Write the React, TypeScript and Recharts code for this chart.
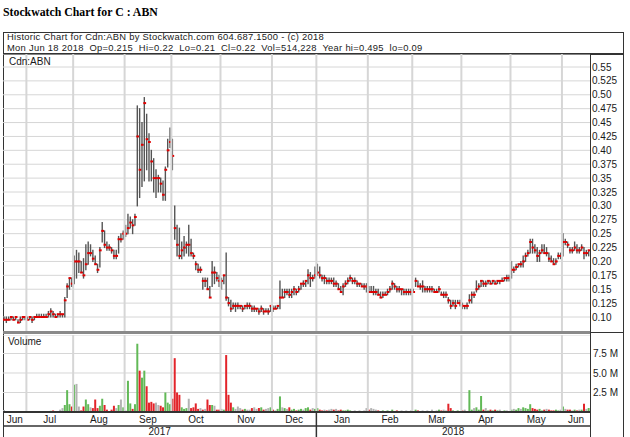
import React from 'react';
import { ComposedChart, Bar, XAxis, YAxis, CartesianGrid, ReferenceLine, Cell } from 'recharts';

// ---------- DATA (one bar per trading day, Jun 19 2017 .. Jun 18 2018) ----------
const HIGH = [
  0.10, 0.10, 0.10, 0.10, 0.10, 0.10, 0.095, 0.10, 0.10, 0.10,
  0.10, 0.10, 0.10, 0.10, 0.105, 0.105, 0.105, 0.105, 0.105, 0.11,
  0.115, 0.11, 0.105, 0.105, 0.11, 0.105, 0.135, 0.16, 0.17, 0.17,
  0.21, 0.22, 0.215, 0.20, 0.205, 0.23, 0.235, 0.23, 0.22, 0.21,
  0.195, 0.225, 0.27, 0.255, 0.235, 0.23, 0.225, 0.22, 0.22, 0.245,
  0.25, 0.255, 0.265, 0.285, 0.28, 0.275, 0.285, 0.48, 0.475, 0.45,
  0.495, 0.465, 0.43, 0.40, 0.385, 0.365, 0.355, 0.35, 0.345, 0.37,
  0.42, 0.44, 0.42, 0.30, 0.265, 0.26, 0.235, 0.245, 0.235, 0.265,
  0.24, 0.215, 0.20, 0.195, 0.19, 0.17, 0.17, 0.17, 0.155, 0.20,
  0.19, 0.18, 0.175, 0.17, 0.175, 0.215, 0.135, 0.13, 0.125, 0.125,
  0.125, 0.12, 0.12, 0.12, 0.125, 0.125, 0.12, 0.12, 0.115, 0.115,
  0.12, 0.115, 0.115, 0.115, 0.12, 0.12, 0.12, 0.12, 0.165, 0.15,
  0.15, 0.15, 0.15, 0.15, 0.155, 0.15, 0.155, 0.16, 0.165, 0.165,
  0.185, 0.18, 0.175, 0.19, 0.195, 0.19, 0.175, 0.175, 0.17, 0.17,
  0.17, 0.17, 0.165, 0.16, 0.155, 0.16, 0.165, 0.17, 0.175, 0.17,
  0.17, 0.165, 0.16, 0.16, 0.16, 0.16, 0.155, 0.155, 0.155, 0.15,
  0.15, 0.145, 0.145, 0.145, 0.15, 0.155, 0.165, 0.16, 0.155, 0.155,
  0.15, 0.15, 0.15, 0.15, 0.15, 0.15, 0.17, 0.165, 0.16, 0.165,
  0.155, 0.155, 0.155, 0.155, 0.15, 0.15, 0.155, 0.145, 0.145, 0.145,
  0.135, 0.13, 0.13, 0.13, 0.13, 0.13, 0.125, 0.12, 0.125, 0.14,
  0.145, 0.145, 0.165, 0.16, 0.165, 0.165, 0.165, 0.165, 0.165, 0.165,
  0.165, 0.165, 0.165, 0.17, 0.17, 0.175, 0.175, 0.20, 0.19, 0.195,
  0.195, 0.20, 0.21, 0.215, 0.22, 0.24, 0.24, 0.23, 0.225, 0.22,
  0.23, 0.23, 0.225, 0.215, 0.21, 0.205, 0.205, 0.215, 0.215, 0.25,
  0.24, 0.235, 0.225, 0.225, 0.235, 0.23, 0.225, 0.23, 0.225, 0.22,
  0.22,
];
const LOW = [
  0.095, 0.09, 0.095, 0.095, 0.095, 0.095, 0.09, 0.09, 0.095, 0.095,
  0.095, 0.095, 0.09, 0.095, 0.10, 0.10, 0.10, 0.10, 0.10, 0.10,
  0.10, 0.10, 0.10, 0.10, 0.10, 0.10, 0.10, 0.135, 0.15, 0.155,
  0.16, 0.17, 0.18, 0.18, 0.17, 0.185, 0.195, 0.21, 0.20, 0.195,
  0.18, 0.19, 0.235, 0.225, 0.22, 0.22, 0.215, 0.205, 0.205, 0.215,
  0.235, 0.24, 0.245, 0.25, 0.26, 0.25, 0.265, 0.30, 0.315, 0.335,
  0.345, 0.365, 0.345, 0.345, 0.325, 0.315, 0.325, 0.325, 0.31, 0.31,
  0.37, 0.405, 0.365, 0.24, 0.21, 0.205, 0.205, 0.21, 0.215, 0.21,
  0.21, 0.205, 0.185, 0.18, 0.18, 0.15, 0.155, 0.15, 0.135, 0.155,
  0.16, 0.165, 0.155, 0.15, 0.16, 0.13, 0.12, 0.11, 0.115, 0.11,
  0.115, 0.115, 0.11, 0.115, 0.115, 0.115, 0.11, 0.11, 0.11, 0.105,
  0.11, 0.105, 0.11, 0.105, 0.11, 0.11, 0.115, 0.115, 0.115, 0.135,
  0.135, 0.14, 0.135, 0.135, 0.14, 0.14, 0.145, 0.15, 0.155, 0.155,
  0.16, 0.155, 0.165, 0.17, 0.175, 0.17, 0.165, 0.16, 0.16, 0.16,
  0.16, 0.155, 0.155, 0.15, 0.145, 0.14, 0.155, 0.16, 0.165, 0.16,
  0.16, 0.155, 0.155, 0.155, 0.15, 0.145, 0.145, 0.145, 0.14, 0.14,
  0.14, 0.135, 0.135, 0.14, 0.14, 0.145, 0.15, 0.15, 0.145, 0.145,
  0.14, 0.14, 0.14, 0.14, 0.14, 0.145, 0.155, 0.155, 0.15, 0.145,
  0.145, 0.145, 0.145, 0.145, 0.145, 0.145, 0.145, 0.14, 0.135, 0.135,
  0.125, 0.115, 0.12, 0.115, 0.125, 0.12, 0.115, 0.115, 0.115, 0.125,
  0.125, 0.135, 0.145, 0.15, 0.155, 0.155, 0.155, 0.16, 0.16, 0.16,
  0.16, 0.16, 0.16, 0.165, 0.165, 0.165, 0.165, 0.17, 0.18, 0.185,
  0.19, 0.19, 0.19, 0.20, 0.21, 0.215, 0.215, 0.215, 0.20, 0.20,
  0.215, 0.215, 0.21, 0.20, 0.20, 0.195, 0.195, 0.205, 0.205, 0.21,
  0.23, 0.225, 0.215, 0.215, 0.22, 0.215, 0.215, 0.22, 0.205, 0.21,
  0.21,
];
const CLOSE = [
  0.095, 0.095, 0.095, 0.10, 0.095, 0.10, 0.09, 0.095, 0.10, 0.10,
  0.095, 0.10, 0.095, 0.10, 0.10, 0.10, 0.10, 0.10, 0.10, 0.105,
  0.11, 0.105, 0.10, 0.105, 0.105, 0.105, 0.13, 0.155, 0.17, 0.16,
  0.20, 0.20, 0.20, 0.18, 0.175, 0.195, 0.215, 0.215, 0.205, 0.195,
  0.185, 0.22, 0.255, 0.23, 0.225, 0.225, 0.22, 0.21, 0.21, 0.24,
  0.24, 0.25, 0.25, 0.26, 0.27, 0.265, 0.28, 0.425, 0.365, 0.41,
  0.485, 0.42, 0.415, 0.38, 0.35, 0.35, 0.35, 0.34, 0.32, 0.365,
  0.40, 0.415, 0.39, 0.26, 0.23, 0.21, 0.22, 0.225, 0.23, 0.23,
  0.215, 0.21, 0.195, 0.185, 0.185, 0.165, 0.165, 0.15, 0.135, 0.18,
  0.18, 0.17, 0.165, 0.165, 0.175, 0.135, 0.125, 0.115, 0.12, 0.12,
  0.12, 0.12, 0.115, 0.12, 0.12, 0.12, 0.115, 0.115, 0.115, 0.11,
  0.115, 0.11, 0.11, 0.11, 0.12, 0.115, 0.115, 0.12, 0.135, 0.135,
  0.145, 0.145, 0.14, 0.145, 0.15, 0.145, 0.15, 0.16, 0.16, 0.165,
  0.175, 0.17, 0.17, 0.175, 0.18, 0.175, 0.17, 0.17, 0.165, 0.165,
  0.165, 0.16, 0.16, 0.15, 0.145, 0.155, 0.16, 0.165, 0.17, 0.165,
  0.165, 0.16, 0.16, 0.155, 0.155, 0.155, 0.145, 0.145, 0.145, 0.145,
  0.14, 0.135, 0.14, 0.14, 0.145, 0.15, 0.16, 0.155, 0.15, 0.15,
  0.15, 0.145, 0.145, 0.145, 0.145, 0.145, 0.165, 0.155, 0.155, 0.155,
  0.15, 0.15, 0.15, 0.15, 0.145, 0.145, 0.15, 0.14, 0.14, 0.14,
  0.13, 0.12, 0.125, 0.12, 0.125, 0.125, 0.12, 0.12, 0.12, 0.13,
  0.14, 0.14, 0.15, 0.155, 0.165, 0.16, 0.16, 0.165, 0.16, 0.165,
  0.16, 0.165, 0.165, 0.165, 0.17, 0.17, 0.17, 0.185, 0.185, 0.19,
  0.195, 0.195, 0.20, 0.21, 0.215, 0.235, 0.225, 0.22, 0.21, 0.215,
  0.22, 0.215, 0.215, 0.205, 0.20, 0.195, 0.20, 0.21, 0.21, 0.235,
  0.235, 0.23, 0.22, 0.22, 0.225, 0.22, 0.22, 0.225, 0.215, 0.215,
  0.22,
];
// daily volume, millions of shares
const VOLUME_M = [
  0.25, 0.12, 0.05, 0.02, 0.03, 0.02, 0.03, 0.02, 0.02, 0.03,
  0.02, 0.05, 0.08, 0.1, 0.12, 0.03, 0.05, 0.02, 0.05, 0.08,
  0.15, 0.2, 0.05, 0.1, 0.3, 0.5, 0.9, 2.8, 1.0, 0.7,
  3.5, 3.6, 0.7, 0.2, 0.7, 1.6, 1.0, 0.6, 0.5, 1.6,
  0.5, 0.8, 1.7, 0.9, 0.3, 0.1, 0.3, 0.8, 0.5, 0.9,
  1.6, 0.6, 0.2, 4.0, 1.1, 0.4, 1.0, 8.75, 5.3, 4.4,
  5.3, 3.3, 1.2, 1.3, 1.1, 1.2, 0.9, 0.8, 0.6, 2.5,
  1.2, 1.0, 1.7, 6.9, 2.5, 2.2, 0.6, 0.4, 0.5, 1.7,
  0.5, 0.6, 1.1, 0.4, 0.5, 0.3, 0.4, 1.6, 0.9, 0.9,
  0.8, 0.3, 0.3, 0.4, 0.3, 7.3, 2.2, 1.2, 0.6, 0.4,
  0.7, 0.5, 0.3, 0.4, 0.3, 0.3, 0.5, 0.6, 0.4, 0.5,
  0.6, 0.3, 0.4, 0.5, 0.6, 0.3, 0.2, 0.4, 2.0, 0.6,
  0.5, 0.4, 0.6, 0.3, 0.4, 0.2, 0.3, 0.4, 0.3, 0.5,
  0.6, 0.3, 0.5, 0.4, 0.5, 0.3, 0.2, 0.3, 0.2, 0.3,
  0.4, 0.3, 0.4, 0.2, 0.3, 0.2, 0.2, 0.3, 0.2, 0.1,
  0.2, 0.1, 0.2, 0.1, 0.2, 0.5, 0.3, 0.5, 0.4, 0.3,
  0.2, 0.1, 0.2, 0.1, 0.2, 0.1, 0.3, 0.1, 0.2, 0.1,
  0.2, 0.1, 0.2, 0.1, 0.2, 0.1, 0.3, 0.2, 0.1, 0.2,
  0.1, 0.2, 0.1, 0.3, 0.1, 0.2, 0.3, 0.2, 0.3, 0.2,
  1.06, 0.5, 0.2, 0.1, 0.2, 0.1, 0.2, 0.3, 0.1, 2.8,
  0.3, 0.5, 0.6, 0.3, 2.05, 0.3, 0.5, 0.2, 0.3, 0.2,
  0.3, 0.2, 0.3, 0.1, 0.2, 0.2, 0.1, 0.3, 0.4, 0.3,
  0.5, 0.4, 0.6, 0.5, 0.4, 1.0, 0.5, 0.4, 0.3, 0.4,
  0.2, 0.3, 0.4, 0.3, 0.2, 0.2, 0.3, 0.2, 0.3, 0.7,
  0.4, 0.3, 0.3, 0.2, 0.3, 0.2, 0.3, 0.3, 1.06, 0.4,
  0.51,
];
const N_DAYS = 251;
const MONTH_LABELS = ['Jun', 'Jul', 'Aug', 'Sep', 'Oct', 'Nov', 'Dec', 'Jan', 'Feb', 'Mar', 'Apr', 'May', 'Jun'];
const MONTH_START = [0, 10, 30, 52, 72, 93, 115, 134, 156, 175, 196, 217, 239];
const YEAR_LABELS = ['2017', '2018'];
const YEAR_START = [0, 134];
const PRICE_TICKS = [0.1, 0.125, 0.15, 0.175, 0.2, 0.225, 0.25, 0.275, 0.3, 0.325, 0.35, 0.375, 0.4, 0.425, 0.45, 0.475, 0.5, 0.525, 0.55];
const VOLUME_TICKS = [2.5, 5.0, 7.5];
const PRICE_DOMAIN = [0.073, 0.5734];
const VOLUME_DOMAIN = [0, 9.87];

const HEADER_1 = 'Historic Chart for Cdn:ABN by Stockwatch.com 604.687.1500 - (c) 2018';
const HEADER_2 = 'Mon Jun 18 2018  Op=0.215  Hi=0.22  Lo=0.21  Cl=0.22  Vol=514,228  Year hi=0.495  lo=0.09';

// ---------- derived tables ----------
const priceData = HIGH.map((h, i) => ({ i, h, l: LOW[i], c: CLOSE[i] }));
const volData = VOLUME_M.map((v, i) => ({
  i,
  v,
  dir: i === 0 ? 0 : Math.sign(CLOSE[i] - CLOSE[i - 1]),
}));
const X_DOMAIN = [-0.5, N_DAYS - 0.5];
const MONTH_MIDS = MONTH_START.map((s, k) => (s + (k + 1 < MONTH_START.length ? MONTH_START[k + 1] : N_DAYS)) / 2 - 0.5);
const YEAR_MIDS = YEAR_START.map((s, k) => (s + (k + 1 < YEAR_START.length ? YEAR_START[k + 1] : N_DAYS)) / 2 - 0.5);
const YEAR_BOUNDS = YEAR_START.slice(1).map((s) => s - 0.5);
const YEAR_TICKS = [...YEAR_MIDS, ...YEAR_BOUNDS].sort((a, b) => a - b);
const MONTH_LINES = MONTH_START.slice(1).map((s) => s - 0.5);

const SANS = '"Liberation Sans", Arial, Helvetica, sans-serif';
const TEXT = '#1a1a1a';
const GRID = '#d6d6d6';
const FRAME = '#333';

const fmtPrice = (v: number) => {
  const s = v.toFixed(3);
  return s.endsWith('0') ? v.toFixed(2) : s;
};

const OhlcShape = (props: any) => {
  const { x, y, width, height, payload } = props;
  if (x == null || y == null || !payload) return null;
  const cx = x + width / 2;
  const top = Math.min(y, y + height);
  const bot = Math.max(y, y + height);
  const span = payload.h - payload.l;
  const yc = span > 0 ? top + ((payload.h - payload.c) / span) * (bot - top) : top;
  return (
    <g>
      <line x1={cx} x2={cx} y1={top - 0.5} y2={bot + 0.5} stroke="#555" strokeWidth={1.4} />
      <line x1={cx - 1} x2={cx + 1.8} y1={yc} y2={yc} stroke="#e00000" strokeWidth={2} />
    </g>
  );
};

const PriceTick = (props: any) => {
  const { x, y, payload } = props;
  return (
    <text x={x + 2} y={y} dy={3.6} fontSize={10} fontFamily={SANS} fill={TEXT}>
      {fmtPrice(payload.value)}
    </text>
  );
};

const VolTick = (props: any) => {
  const { x, y, payload } = props;
  return (
    <text x={x + 3} y={y} dy={3.6} fontSize={10} fontFamily={SANS} fill={TEXT}>
      {`${Number(payload.value).toFixed(1)} M`}
    </text>
  );
};

const MonthTick = (props: any) => {
  const { x, y, payload } = props;
  const k = MONTH_MIDS.indexOf(payload.value);
  return (
    <text x={x} y={y} dy={11.2} textAnchor="middle" fontSize={10} fontFamily={SANS} fill={TEXT}>
      {k >= 0 ? MONTH_LABELS[k] : ''}
    </text>
  );
};

const YearTick = (props: any) => {
  const { x, y, payload } = props;
  const k = YEAR_MIDS.indexOf(payload.value);
  if (k >= 0) {
    return (
      <text x={x} y={y} dy={9.4} textAnchor="middle" fontSize={10} fontFamily={SANS} fill={TEXT}>
        {YEAR_LABELS[k]}
      </text>
    );
  }
  return <line x1={x} x2={x} y1={y - 14} y2={y + 14} stroke={FRAME} strokeWidth={1.5} />;
};

const volColor = (dir: number) => (dir > 0 ? '#62b957' : dir < 0 ? '#e2242a' : '#b3b3b3');

const abs = (left: number, top: number, width: number, height: number, bg: string): React.CSSProperties => ({
  position: 'absolute',
  left,
  top,
  width,
  height,
  background: bg,
});

const headerLine = (top: number): React.CSSProperties => ({
  position: 'absolute',
  left: 7,
  top,
  fontSize: 9.4,
  letterSpacing: 0.28,
  lineHeight: '10.6px',
  height: 10.6,
  color: TEXT,
  whiteSpace: 'pre',
});

export default function App() {
  return (
    <div
      style={{
        position: 'fixed',
        left: 0,
        top: 0,
        width: 630,
        height: 437,
        overflow: 'hidden',
        background: '#fff',
        fontFamily: SANS,
      }}
    >
      {/* page title */}
      <div
        style={{
          position: 'absolute',
          left: 3,
          top: 6,
          fontFamily: '"Liberation Serif", "Times New Roman", serif',
          fontWeight: 'bold',
          fontSize: 11.8,
          lineHeight: '12px',
          color: '#000',
          whiteSpace: 'nowrap',
        }}
      >
        Stockwatch Chart for C : ABN
      </div>

      {/* outer frame */}
      <div
        style={{
          position: 'absolute',
          left: 3,
          top: 32,
          width: 619,
          height: 430,
          border: `1px solid ${FRAME}`,
        }}
      />
      {/* header text */}
      <div style={headerLine(32.2)}>{HEADER_1}</div>
      <div style={headerLine(42.8)}>{HEADER_2}</div>
      <div style={abs(3, 53, 620, 1.5, FRAME)} />

      {/* price panel */}
      <div style={{ position: 'absolute', left: 3, top: 54 }}>
        <ComposedChart width={620} height={278} data={priceData} margin={{ top: 0, right: 0, bottom: 0, left: 0 }}>
          <CartesianGrid vertical={false} stroke={GRID} />
          <XAxis dataKey="i" type="number" domain={X_DOMAIN} allowDataOverflow hide />
          <YAxis
            orientation="right"
            width={33}
            type="number"
            domain={PRICE_DOMAIN}
            allowDataOverflow
            ticks={PRICE_TICKS}
            interval={0}
            tick={<PriceTick />}
            tickLine={false}
            tickSize={0}
            tickMargin={0}
            axisLine={false}
          />
          {MONTH_LINES.map((m) => (
            <ReferenceLine key={m} x={m} stroke={GRID} strokeWidth={2} />
          ))}
          <Bar
            dataKey={(d: any) => [d.l, d.h]}
            barSize={2}
            shape={<OhlcShape />}
            isAnimationActive={false}
          />
        </ComposedChart>
      </div>
      <div style={{ position: 'absolute', left: 9, top: 57, fontSize: 10, lineHeight: '10px', color: TEXT }}>Cdn:ABN</div>

      {/* separator between panels */}
      <div style={abs(3, 331, 587, 3, '#8a8a8a')} />
      <div style={abs(590, 332, 33, 1, FRAME)} />

      {/* volume panel with month / year axes */}
      <div style={{ position: 'absolute', left: 3, top: 335 }}>
        <ComposedChart width={620} height={103} data={volData} margin={{ top: 0, right: 0, bottom: 0, left: 0 }}>
          <CartesianGrid vertical={false} stroke={GRID} xAxisId="m" />
          <XAxis
            xAxisId="m"
            dataKey="i"
            type="number"
            domain={X_DOMAIN}
            allowDataOverflow
            ticks={MONTH_MIDS}
            interval={0}
            height={14}
            tick={<MonthTick />}
            tickLine={false}
            tickSize={0}
            tickMargin={0}
            axisLine={{ stroke: FRAME, strokeWidth: 2 }}
          />
          <XAxis
            xAxisId="y"
            dataKey="i"
            type="number"
            domain={X_DOMAIN}
            allowDataOverflow
            ticks={YEAR_TICKS}
            interval={0}
            height={12}
            tick={<YearTick />}
            tickLine={false}
            tickSize={0}
            tickMargin={0}
            axisLine={{ stroke: FRAME, strokeWidth: 1.5 }}
          />
          <YAxis
            orientation="right"
            width={33}
            type="number"
            domain={VOLUME_DOMAIN}
            allowDataOverflow
            ticks={VOLUME_TICKS}
            interval={0}
            tick={<VolTick />}
            tickLine={false}
            tickSize={0}
            tickMargin={0}
            axisLine={false}
          />
          {MONTH_LINES.map((m) => (
            <ReferenceLine key={m} x={m} xAxisId="m" stroke={GRID} strokeWidth={2} />
          ))}
          <Bar xAxisId="m" dataKey="v" barSize={2} isAnimationActive={false}>
            {volData.map((d) => (
              <Cell key={d.i} fill={volColor(d.dir)} />
            ))}
          </Bar>
        </ComposedChart>
      </div>
      <div style={{ position: 'absolute', left: 8, top: 336.5, fontSize: 10, lineHeight: '10px', color: TEXT }}>Volume</div>

      {/* right border of plot area, running through both panels and the date rows */}
      <div style={abs(589.5, 54, 1.5, 383, FRAME)} />
    </div>
  );
}
